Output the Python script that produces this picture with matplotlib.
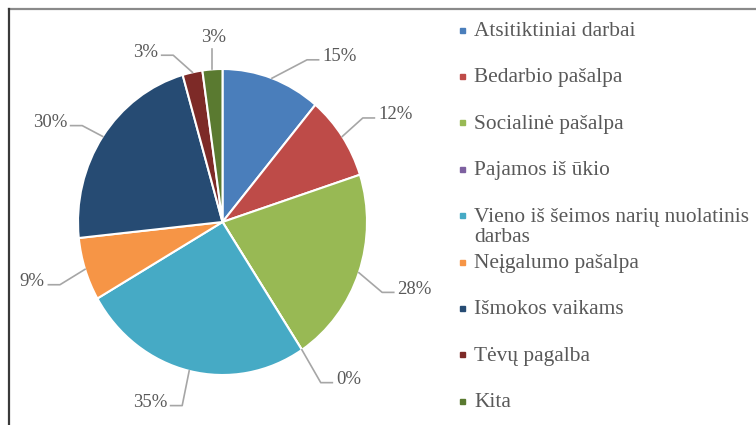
import matplotlib.pyplot as plt
import numpy as np

categories = ['Atsitiktiniai darbai', 'Bedarbio pašalpa', 'Socialinė pašalpa',
              'Pajamos iš ūkio', 'Vieno iš šeimos narių nuolatinis\ndarbas',
              'Neįgalumo pašalpa', 'Išmokos vaikams', 'Tėvų pagalba', 'Kita']
values = [15, 12, 28, 0, 35, 9, 30, 3, 3]
value_labels = ['15%', '12%', '28%', '0%', '35%', '9%', '30%', '3%', '3%']
colors = ['#4a7ebb', '#be4b48', '#98b954', '#7d60a0', '#46aac5',
          '#f69546', '#264b73', '#7d2a27', '#5a7a30']

# label anchor (near side of text, line height) in pie units, and side
label_pos = [(0.69, 1.06, 'l'), (1.076, 0.68, 'l'), (1.21, -0.46, 'l'),
             (0.785, -1.05, 'l'), (-0.384, -1.2, 'r'), (-1.23, -0.41, 'r'),
             (-1.076, 0.63, 'r'), (-0.446, 1.09, 'r'), (-0.06, 1.15, 'u')]

W, H = 756, 425
fig = plt.figure(figsize=(W / 100, H / 100), dpi=100)
fig.patch.set_facecolor('white')

# frame (top and left edges only visible)
frame = fig.add_axes([0, 0, 1, 1])
frame.set_xlim(0, W)
frame.set_ylim(H, 0)
frame.axis('off')
frame.plot([8.5, W], [8.5, 8.5], color='#8a8a8a', lw=1.6)
frame.plot([8.5, 8.5], [8.5, H], color='#3a3a3a', lw=1.6)

cx, cy, rx, ry = 222.5, 222, 144.5, 153
ax = fig.add_axes([(cx - rx) / W, 1 - (cy + ry) / H, 2 * rx / W, 2 * ry / H])
wedges, _ = ax.pie(values, colors=colors, startangle=90, counterclock=False,
                   radius=1, wedgeprops=dict(edgecolor='white', linewidth=1.5))
ax.set_aspect('auto')
ax.set_xlim(-1, 1)
ax.set_ylim(-1, 1)

serif = 'Liberation Serif'
gray = '#595959'
lc = '#a6a6a6'
for w, lab, (tx, ty, side) in zip(wedges, value_labels, label_pos):
    mid = np.deg2rad((w.theta1 + w.theta2) / 2)
    ex, ey = np.cos(mid), np.sin(mid)
    if side == 'u':
        ax.plot([ex, ex], [ey, ty - 0.02], color=lc, lw=1.2, clip_on=False)
        ax.text(tx, ty, lab, ha='center', va='bottom', fontsize=13.5,
                family=serif, color=gray)
        continue
    s = 1 if side == 'l' else -1
    tail = tx - s * 0.025
    elbow = tail - s * 0.08
    ax.plot([ex, elbow, tail], [ey, ty, ty], color=lc, lw=1.2, clip_on=False)
    ax.text(tx, ty + 0.02, lab, ha='left' if s == 1 else 'right', va='center',
            fontsize=13.5, family=serif, color=gray)

# legend
y0, dy = 30, 46.4
for i, (name, c) in enumerate(zip(categories, colors)):
    y = y0 + i * dy
    frame.add_patch(plt.Rectangle((460, y - 2.5), 5, 5, color=c))
    frame.text(474, y - 8, name, ha='left', va='top', fontsize=15.4,
               family=serif, color=gray, linespacing=1.12)

fig.savefig('out.png', dpi=100)
